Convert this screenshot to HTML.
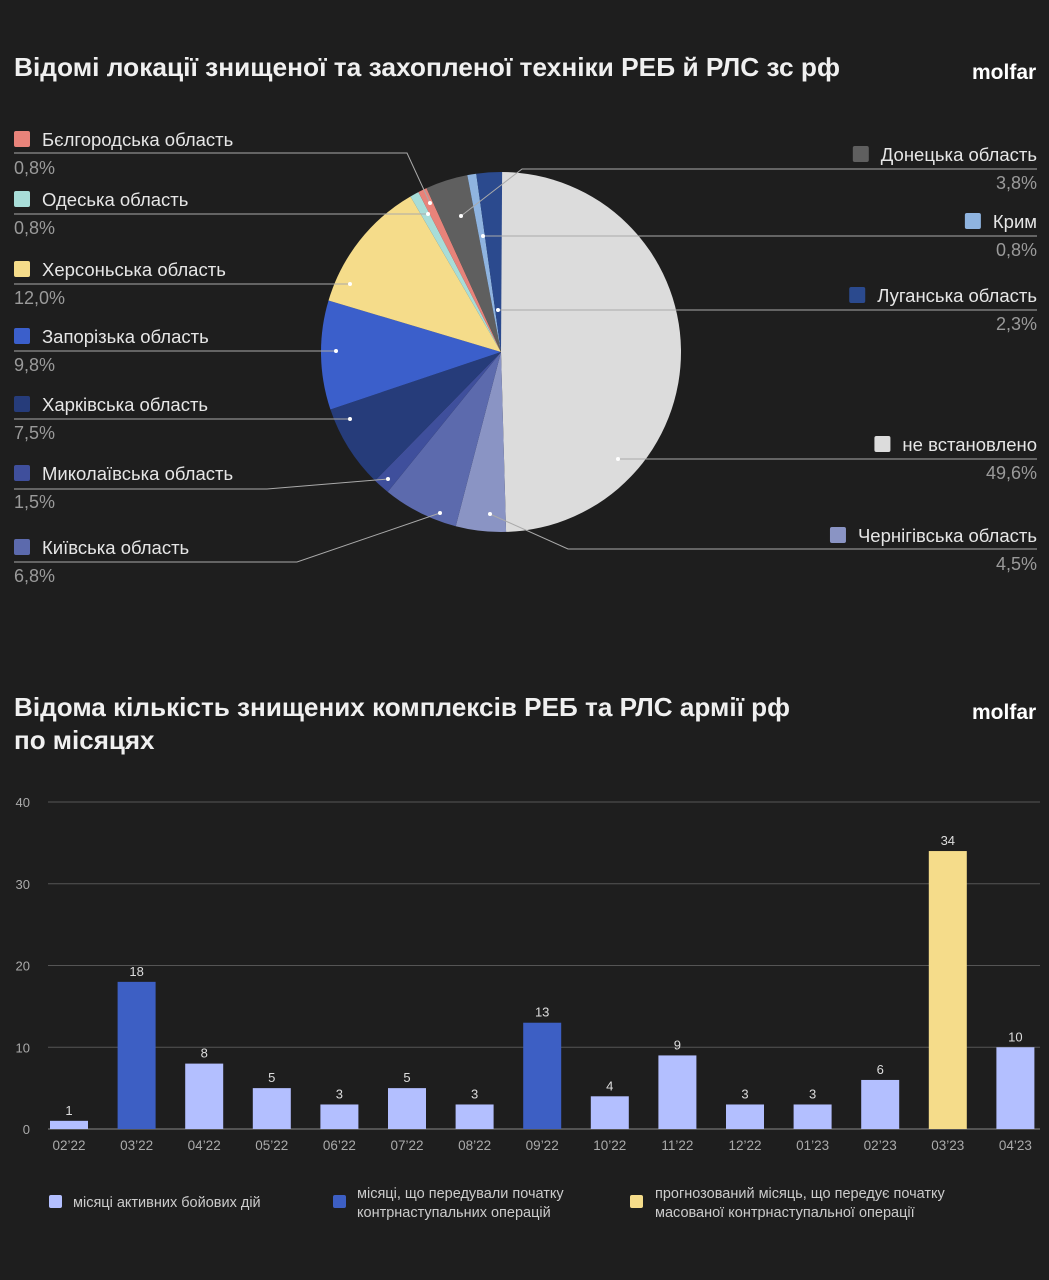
<!DOCTYPE html>
<html><head><meta charset="utf-8"><style>
body{margin:0;background:#1e1e1e;width:1049px;height:1280px;overflow:hidden;font-family:"Liberation Sans","DejaVu Sans",sans-serif;color:#e6e6e6}
svg{position:absolute;left:0;top:0}
</style></head><body>
<svg id="s" width="1049" height="1280" xmlns="http://www.w3.org/2000/svg" font-family="Liberation Sans, DejaVu Sans, sans-serif">
<text x="14" y="76" font-size="26" font-weight="bold" fill="#f0f0f0" textLength="826" lengthAdjust="spacingAndGlyphs">Відомі локації знищеної та захопленої техніки РЕБ й РЛС зс рф</text>
<text x="972" y="79" font-size="21" font-weight="bold" fill="#fff">molfar</text>
<text x="14" y="716" font-size="26" font-weight="bold" fill="#f0f0f0" textLength="776" lengthAdjust="spacingAndGlyphs">Відома кількість знищених комплексів РЕБ та РЛС армії рф</text>
<text x="14" y="749" font-size="26" font-weight="bold" fill="#f0f0f0">по місяцях</text>
<text x="972" y="719" font-size="21" font-weight="bold" fill="#fff">molfar</text>
</svg>
<script>
var NS="http://www.w3.org/2000/svg",s=document.getElementById('s');
function el(t,a,txt){var e=document.createElementNS(NS,t);for(var k in a)e.setAttribute(k,a[k]);if(txt!=null)e.textContent=txt;s.appendChild(e);return e;}
var cx=501,cy=352,r=180;
var d=[[49.6,'#dcdcdc'],[4.5,'#8a94c4'],[6.8,'#5c6aad'],[1.5,'#3f4f9c'],[7.5,'#263c7a'],[9.8,'#3b5fcb'],[12.0,'#f5dc8a'],[0.8,'#a8ddd8'],[0.8,'#e8837a'],[3.8,'#5f5f5f'],[0.8,'#8fb4e0'],[2.3,'#2b4a8e']];
var a=0;d.forEach(function(p){var a2=a+p[0]/100.1*2*Math.PI;
var x1=cx+r*Math.sin(a),y1=cy-r*Math.cos(a),x2=cx+r*Math.sin(a2),y2=cy-r*Math.cos(a2);
el('path',{d:'M'+cx+','+cy+'L'+x1+','+y1+'A'+r+','+r+' 0 '+((a2-a)>Math.PI?1:0)+' 1 '+x2+','+y2+'Z',fill:p[1]});a=a2;});
var L=[['Бєлгородська область','0,8%','#e8837a',140,[[14,153],[407,153],[430,203]]],
['Одеська область','0,8%','#a8ddd8',200,[[14,214],[428,214]]],
['Херсоньська область','12,0%','#f5dc8a',270,[[14,284],[350,284]]],
['Запорізька область','9,8%','#3b5fcb',337,[[14,351],[336,351]]],
['Харківська область','7,5%','#263c7a',405,[[14,419],[350,419]]],
['Миколаївська область','1,5%','#3f4f9c',474,[[14,489],[267,489],[388,479]]],
['Київська область','6,8%','#5c6aad',548,[[14,562],[297,562],[440,513]]]];
L.forEach(function(l){el('rect',{x:14,y:l[3]-9,width:16,height:16,rx:2,fill:l[2]});
el('text',{x:42,y:l[3]+6,'font-size':18.5,fill:'#e6e6e6'},l[0]);
el('text',{x:14,y:l[3]+34,'font-size':18,fill:'#9a9a9a'},l[1]);
el('polyline',{points:l[4].map(function(q){return q.join(',')}).join(' '),fill:'none',stroke:'#aaa','stroke-width':1});
var q=l[4][l[4].length-1];el('circle',{cx:q[0],cy:q[1],r:2,fill:'#fff'});});
var R=[['Донецька область','3,8%','#5f5f5f',155,[[1037,169],[522,169],[461,216]]],
['Крим','0,8%','#8fb4e0',222,[[1037,236],[483,236]]],
['Луганська область','2,3%','#2b4a8e',296,[[1037,310],[498,310]]],
['не встановлено','49,6%','#dcdcdc',445,[[1037,459],[618,459]]],
['Чернігівська область','4,5%','#8a94c4',536,[[1037,549],[568,549],[490,514]]]];
R.forEach(function(l){var t=el('text',{x:1037,y:l[3]+6,'font-size':18.5,fill:'#e6e6e6','text-anchor':'end'},l[0]);
var w=t.getComputedTextLength();el('rect',{x:1037-w-28,y:l[3]-9,width:16,height:16,rx:2,fill:l[2]});
el('text',{x:1037,y:l[3]+34,'font-size':18,fill:'#9a9a9a','text-anchor':'end'},l[1]);
el('polyline',{points:l[4].map(function(q){return q.join(',')}).join(' '),fill:'none',stroke:'#aaa','stroke-width':1});
var q=l[4][l[4].length-1];el('circle',{cx:q[0],cy:q[1],r:2,fill:'#fff'});});
var y0=1129,u=8.175;
[0,10,20,30,40].forEach(function(v){var y=y0-v*u;if(v>0)el('line',{x1:48,x2:1040,y1:y,y2:y,stroke:'#555','stroke-width':1});
el('text',{x:30,y:y+5,'font-size':13,fill:'#aaa','text-anchor':'end'},v);});
el('line',{x1:48,x2:1040,y1:y0,y2:y0,stroke:'#888','stroke-width':1});
var B=[[1,'02\u201922',0],[18,'03\u201922',1],[8,'04\u201922',0],[5,'05\u201922',0],[3,'06\u201922',0],[5,'07\u201922',0],[3,'08\u201922',0],[13,'09\u201922',1],[4,'10\u201922',0],[9,'11\u201922',0],[3,'12\u201922',0],[3,'01\u201923',0],[6,'02\u201923',0],[34,'03\u201923',2],[10,'04\u201923',0]];
var C=['#b3bfff','#3d5fc4','#f5dc8a'];
B.forEach(function(b,i){var x=69+i*67.6,h=b[0]*u;
el('rect',{x:x-19,y:y0-h,width:38,height:h,fill:C[b[2]]});
el('text',{x:x,y:y0-h-6,'font-size':13,fill:'#ddd','text-anchor':'middle'},b[0]);
el('text',{x:x,y:y0+21,'font-size':13.5,fill:'#aaa','text-anchor':'middle'},b[1]);});
el('rect',{x:49,y:1195,width:13,height:13,rx:2,fill:C[0]});
el('text',{x:73,y:1207,'font-size':14.5,fill:'#ccc'},'місяці активних бойових дій');
el('rect',{x:333,y:1195,width:13,height:13,rx:2,fill:C[1]});
el('text',{x:357,y:1198,'font-size':14.5,fill:'#ccc'},'місяці, що передували початку');
el('text',{x:357,y:1217,'font-size':14.5,fill:'#ccc'},'контрнаступальних операцій');
el('rect',{x:630,y:1195,width:13,height:13,rx:2,fill:C[2]});
el('text',{x:655,y:1198,'font-size':14.5,fill:'#ccc'},'прогнозований місяць, що передує початку');
el('text',{x:655,y:1217,'font-size':14.5,fill:'#ccc'},'масованої контрнаступальної операції');
</script>
</body></html>
